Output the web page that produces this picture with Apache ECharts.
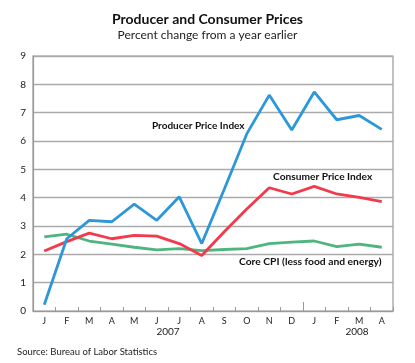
<!DOCTYPE html>
<html><head><meta charset="utf-8">
<script src="https://cdn.jsdelivr.net/npm/echarts@6/dist/echarts.min.js"></script>
<style>html,body{margin:0;padding:0;background:#fff}#c{width:415px;height:363px}</style>
</head><body><div id="c"></div>
<script>
const months = ['J','F','M','A','M','J','J','A','S','O','N','D','J','F','M','A'];
const yearLabels = {6:'2007', 14.4:'2008'};
const ppi = [0.22,2.55,3.2,3.15,3.77,3.2,4.03,2.38,4.3,6.25,7.62,6.39,7.73,6.75,6.9,6.41];
const cpi = [2.12,2.45,2.75,2.55,2.67,2.64,2.38,1.96,2.8,3.6,4.35,4.13,4.4,4.13,4.01,3.86];
const core = [2.62,2.71,2.47,2.36,2.25,2.16,2.2,2.13,2.17,2.2,2.38,2.43,2.47,2.27,2.36,2.25];
const yTicks = [0,1,2,3,4,5,6,7,8,9];

const font = 'Lato, "Open Sans", sans-serif';
const chart = echarts.init(document.getElementById('c'));
chart.setOption({
  animation:false,
  title:[{text:'Producer and Consumer Prices',left:'center',top:7,
    textStyle:{fontFamily:font,fontSize:14,fontWeight:'bold',color:'#111'}},
    {text:'Percent change from a year earlier',left:'center',top:24,
    textStyle:{fontFamily:font,fontSize:12,fontWeight:'normal',color:'#222'}},
    {text:'Source: Bureau of Labor Statistics',left:12,top:342,
    textStyle:{fontFamily:font,fontSize:9.5,fontWeight:'normal',color:'#222'}}],
  grid:{left:33,right:22,top:56,bottom:52,show:true,borderColor:'#999',borderWidth:1.2},
  xAxis:[{type:'category',data:months,boundaryGap:true,
    axisLine:{lineStyle:{color:'#999',width:1.2}},
    axisTick:{show:true,inside:true,length:4,interval:0,lineStyle:{color:'#999'}},
    axisLabel:{interval:0,fontFamily:font,fontSize:9,color:'#222',margin:6}},
   {type:'value',min:0,max:16,position:'bottom',
    axisLine:{show:false},splitLine:{show:false},
    axisTick:{show:true,inside:true,length:9,customValues:[12],lineStyle:{color:'#999'}},
    axisLabel:{customValues:Object.keys(yearLabels).map(Number),formatter:v=>yearLabels[v]||'',
      fontFamily:font,fontSize:10,color:'#222',margin:16}}],
  yAxis:{type:'value',min:yTicks[0],max:yTicks[yTicks.length-1],interval:1,
    axisLine:{show:true,lineStyle:{color:'#999',width:1.2}},axisTick:{show:false},
    splitLine:{lineStyle:{color:'#aaa',width:1.3}},
    axisLabel:{fontFamily:font,fontSize:10,color:'#222',margin:7}},
  series:[
    {name:'Core CPI (less food and energy)',type:'line',data:core,symbol:'none',lineStyle:{color:'#4fb57f',width:2.8}},
    {name:'Consumer Price Index',type:'line',data:cpi,symbol:'none',lineStyle:{color:'#f23a4c',width:2.8}},
    {name:'Producer Price Index',type:'line',data:ppi,symbol:'none',lineStyle:{color:'#2c97d9',width:2.8}}
  ],
  graphic:[
    {type:'text',left:152,top:121,style:{text:'Producer Price Index',font:'bold 10px '+font,fill:'#111'}},
    {type:'text',left:273,top:172,style:{text:'Consumer Price Index',font:'bold 10.2px '+font,fill:'#111'}},
    {type:'text',left:239,top:257,style:{text:'Core CPI (less food and energy)',font:'bold 10.3px '+font,fill:'#111'}}
  ]
});
</script></body></html>
